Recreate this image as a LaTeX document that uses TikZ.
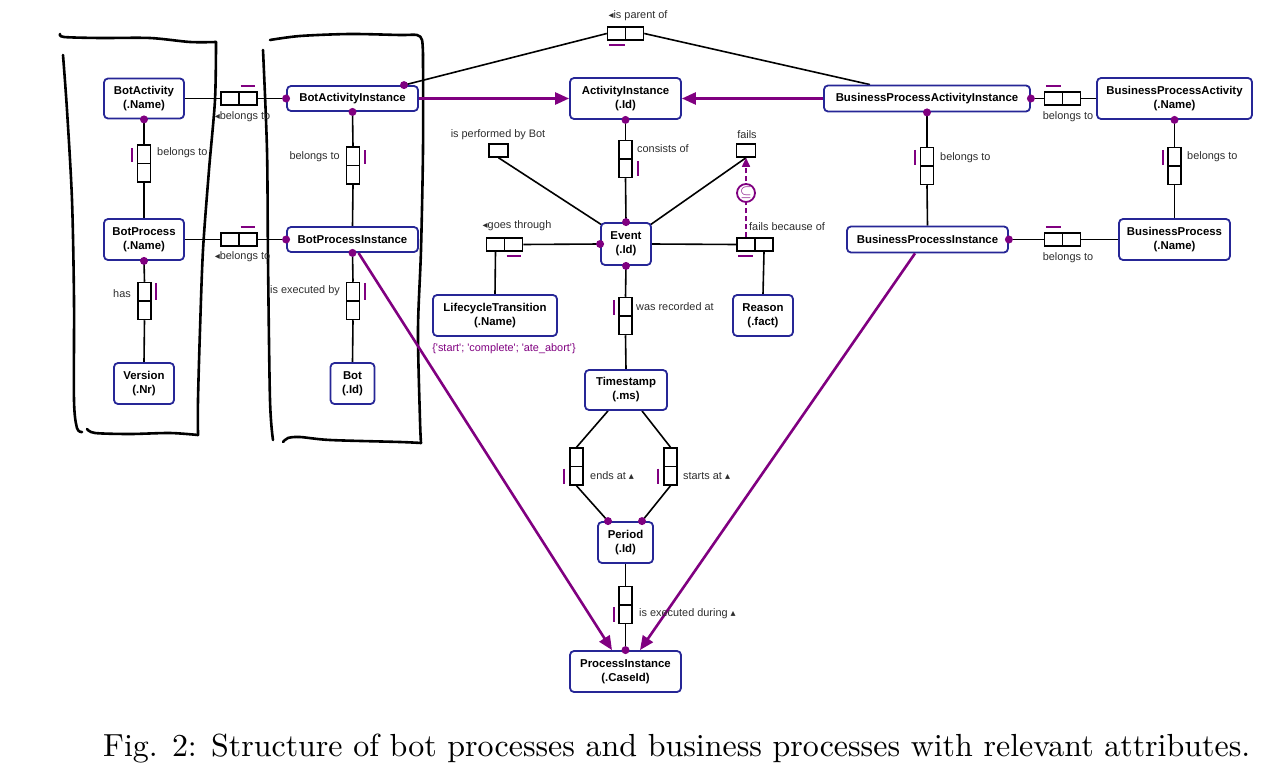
\documentclass[tikz,border=0pt]{standalone}
\usepackage{fontspec}
\usepackage{graphicx}
\usetikzlibrary{arrows.meta,backgrounds}
\newfontfamily\diafont{Liberation Sans}
\newfontfamily\symfont{DejaVu Sans}
\definecolor{navyb}{RGB}{38,38,150}
\definecolor{purp}{RGB}{128,0,128}
\definecolor{lblgray}{RGB}{45,45,45}
\newcommand\entf{\diafont\bfseries\fontsize{11.4}{14}\selectfont}
\newcommand\lblf{\diafont\fontsize{10.9}{13}\selectfont}
\newcommand\ltri{{\symfont\fontsize{10}{10}\selectfont ◂}}
\newcommand\utri{{\symfont\fontsize{10}{10}\selectfont ▴}}
\tikzset{
 ent/.style={draw=navyb, line width=1.8pt, rounded corners=4pt, fill=white, inner sep=0pt, align=center, font=\entf},
 rb/.style={draw=black, line width=1.5pt, fill=white, inner sep=0pt, minimum width=36pt, minimum height=13pt,
   path picture={\draw[line width=1.5pt] (path picture bounding box.north) -- (path picture bounding box.south);}},
 vrb/.style={draw=black, line width=1.5pt, fill=white, inner sep=0pt, minimum width=13pt, minimum height=37pt,
   path picture={\draw[line width=1.5pt] (path picture bounding box.west) -- (path picture bounding box.east);}},
 ub/.style={draw=black, line width=1.5pt, fill=white, inner sep=0pt, minimum width=19pt, minimum height=13pt},
 conn/.style={line width=1.6pt, black},
 sub/.style={draw=purp, line width=2.6pt, -{Triangle[length=14pt,width=12pt]}},
 dsub/.style={draw=purp, line width=1.5pt, dash pattern=on 5pt off 3pt, -{Triangle[length=9pt,width=8pt]}},
 bar/.style={draw=purp, line width=1.6pt},
 lbl/.style={font=\lblf, text=lblgray, inner sep=0pt},
 dot/.style={fill=purp},
 hand/.style={line width=2.6pt, black, line cap=round, line join=round},
}
\begin{document}
\begin{tikzpicture}[x=1pt, y=-1pt]
\useasboundingbox (0,0) rectangle (1275,768);

% hand-drawn boxes
\draw[hand] plot[smooth] coordinates {(60,34) (64,37) (100,38) (150,38) (190,42) (216,42)};
\draw[hand] plot[smooth] coordinates {(216,42) (215,100) (209,170) (203,250) (200,330) (198,400) (198,435)};
\draw[hand] plot[smooth] coordinates {(63,55) (67,110) (72,200) (74,300) (74,400) (77,428) (82,432)};
\draw[hand] plot[smooth] coordinates {(87,429) (95,433) (130,434) (170,433) (198,435)};
\draw[hand] plot[smooth] coordinates {(270,40) (300,36) (350,34) (400,35) (417,35) (422,40) (423,55)};
\draw[hand] plot[smooth] coordinates {(423,55) (423,150) (421,250) (418,330) (420,420) (421,443)};
\draw[hand] plot[smooth] coordinates {(263,50) (267,150) (268,260) (270,400) (273,440)};
\draw[hand] plot[smooth] coordinates {(283,442) (288,438) (300,437) (330,440) (400,442) (421,443)};

% entities
\node[ent, minimum width=80pt, minimum height=40pt] (BA) at (144,98.5) {BotActivity\\(.Name)};
\node[ent, minimum width=131pt, minimum height=25pt] (BAI) at (352.5,98.5) {BotActivityInstance};
\node[ent, minimum width=111pt, minimum height=41pt] (AI) at (625.5,98.5) {ActivityInstance\\(.Id)};
\node[ent, minimum width=206pt, minimum height=26pt] (BPAI) at (927,98.5) {BusinessProcessActivityInstance};
\node[ent, minimum width=155pt, minimum height=41pt] (BPA) at (1174.5,98.5) {BusinessProcessActivity\\(.Name)};
\node[ent, minimum width=80pt, minimum height=41pt] (BotP) at (144,239.5) {BotProcess\\(.Name)};
\node[ent, minimum width=131pt, minimum height=25pt] (BotPI) at (352.5,239.5) {BotProcessInstance};
\node[ent, minimum width=50pt, minimum height=42pt] (EV) at (626,244) {Event\\(.Id)};
\node[ent, minimum width=161pt, minimum height=26pt] (BPInst) at (927.5,239.5) {BusinessProcessInstance};
\node[ent, minimum width=111pt, minimum height=41pt] (BProc) at (1174.5,239.5) {BusinessProcess\\(.Name)};
\node[ent, minimum width=124pt, minimum height=41pt] (LT) at (495,315.5) {LifecycleTransition\\(.Name)};
\node[ent, minimum width=60pt, minimum height=41pt] (RE) at (763,315.5) {Reason\\(.fact)};
\node[ent, minimum width=60pt, minimum height=41pt] (VE) at (144,383.5) {Version\\(.Nr)};
\node[ent, minimum width=44pt, minimum height=41pt] (BOT) at (352.5,383.5) {Bot\\(.Id)};
\node[ent, minimum width=82pt, minimum height=40pt] (TS) at (626,390) {Timestamp\\(.ms)};
\node[ent, minimum width=55pt, minimum height=41pt] (PE) at (625.5,542.5) {Period\\(.Id)};
\node[ent, minimum width=111pt, minimum height=41pt] (PI) at (625.5,671.5) {ProcessInstance\\(.CaseId)};

% role boxes
\node[rb] (rBA) at (239,98.5) {};
\node[vrb] (rBAp) at (144,163.5) {};
\node[vrb] (rBAIp) at (353,165.5) {};
\node[rb] (rBP) at (239,239.5) {};
\node[vrb] (rVer) at (144.5,301) {};
\node[vrb] (rBot) at (353,301) {};
\node[rb] (rPar) at (625.5,33.5) {};
\node[vrb] (rCons) at (625.5,159) {};
\node[ub] (uPerf) at (498.5,150.5) {};
\node[ub] (uFails) at (746,150.5) {};
\node[rb] (rGoes) at (504.5,244.5) {};
\node[rb] (rFbc) at (755,244.5) {};
\node[vrb] (rRec) at (625.5,316) {};
\node[vrb] (rEnds) at (576.5,466.5) {};
\node[vrb] (rStarts) at (670.5,466.5) {};
\node[vrb] (rExec) at (625.5,605) {};
\node[rb] (rBpa) at (1062.5,98.5) {};
\node[vrb] (rBpai) at (927,166) {};
\node[vrb] (rBpa2) at (1174.5,166) {};
\node[rb] (rBpi) at (1062.5,239.5) {};

% subset circle
\node[circle, draw=purp, line width=1.8pt, fill=white, minimum size=18pt, inner sep=0pt, text=purp] (subc) at (746,193) {\scalebox{1.5}{$\subseteq$}};

\begin{pgfonlayer}{background}
\draw[conn] (BA.east) -- (rBA.west);
\draw[conn] (rBA.east) -- (BAI.west);
\draw[conn] (BA.south) -- (rBAp.north);
\draw[conn] (rBAp.south) -- (BotP.north);
\draw[conn] (BAI.south) -- (rBAIp.north);
\draw[conn] (rBAIp.south) -- (BotPI.north);
\draw[conn] (BotP.east) -- (rBP.west);
\draw[conn] (rBP.east) -- (BotPI.west);
\draw[conn] (BotP.south) -- (rVer.north);
\draw[conn] (rVer.south) -- (VE.north);
\draw[conn] (BotPI.south) -- (rBot.north);
\draw[conn] (rBot.south) -- (BOT.north);
\draw[conn] ([xshift=51.5pt]BAI.north) -- (rPar.west);
\draw[conn] (rPar.east) -- ([xshift=-57pt]BPAI.north);
\draw[conn] (AI.south) -- (rCons.north);
\draw[conn] (rCons.south) -- (EV.north);
\draw[conn] (uPerf.south) -- ([xshift=2pt,yshift=-3pt]EV.north west);
\draw[conn] (uFails.south) -- ([xshift=-2pt,yshift=-3pt]EV.north east);
\draw[conn] (rGoes.east) -- (EV.west);
\draw[conn] ([xshift=-9pt]rGoes.south) -- (LT.north);
\draw[conn] (EV.east) -- (rFbc.west);
\draw[conn] ([xshift=9pt]rFbc.south) -- (RE.north);
\draw[conn] (EV.south) -- (rRec.north);
\draw[conn] (rRec.south) -- (TS.north);
\draw[conn] ([xshift=-18pt]TS.south) -- (rEnds.north);
\draw[conn] (rEnds.south) -- ([xshift=-17.5pt]PE.north);
\draw[conn] ([xshift=16pt]TS.south) -- (rStarts.north);
\draw[conn] (rStarts.south) -- ([xshift=16.5pt]PE.north);
\draw[conn] (PE.south) -- (rExec.north);
\draw[conn] (rExec.south) -- (PI.north);
\draw[conn] (BPAI.east) -- (rBpa.west);
\draw[conn] (rBpa.east) -- (BPA.west);
\draw[conn] (BPAI.south) -- (rBpai.north);
\draw[conn] (rBpai.south) -- (BPInst.north);
\draw[conn] (BPA.south) -- (rBpa2.north);
\draw[conn] (rBpa2.south) -- (BProc.north);
\draw[conn] (BPInst.east) -- (rBpi.west);
\draw[conn] (rBpi.east) -- (BProc.west);
\draw[dsub] ([xshift=-9pt]rFbc.north) -- (uFails.south);
\end{pgfonlayer}

% subtype arrows
\draw[sub] (BAI.east) -- (AI.west);
\draw[sub] (BPAI.west) -- (AI.east);
\draw[sub] ([xshift=6pt]BotPI.south) -- ([xshift=-13.5pt]PI.north);
\draw[sub] ([xshift=-12.5pt]BPInst.south) -- ([xshift=14.5pt]PI.north);

% purple constraint bars
\draw[bar] ([xshift=1.5pt,yshift=5pt]rBA.north) -- ([xshift=-2.5pt,yshift=5pt]rBA.north east);
\draw[bar] ([xshift=1.5pt,yshift=5pt]rBP.north) -- ([xshift=-2.5pt,yshift=5pt]rBP.north east);
\draw[bar] ([xshift=2pt,yshift=-4.5pt]rPar.south west) -- ([xshift=-1pt,yshift=-4.5pt]rPar.south);
\draw[bar] ([xshift=2pt,yshift=-4.5pt]rGoes.south) -- ([xshift=-2pt,yshift=-4.5pt]rGoes.south east);
\draw[bar] ([xshift=2pt,yshift=-4.5pt]rFbc.south west) -- ([xshift=-2pt,yshift=-4.5pt]rFbc.south);
\draw[bar] ([xshift=2pt,yshift=5pt]rBpa.north west) -- ([xshift=-2pt,yshift=5pt]rBpa.north);
\draw[bar] ([xshift=2pt,yshift=5pt]rBpi.north west) -- ([xshift=-2pt,yshift=5pt]rBpi.north);
\draw[bar] ([xshift=-4.5pt,yshift=-4pt]rBAp.north west) -- ([xshift=-4.5pt,yshift=1.5pt]rBAp.west);
\draw[bar] ([xshift=4.5pt,yshift=-4pt]rBAIp.north east) -- ([xshift=4.5pt,yshift=1.5pt]rBAIp.east);
\draw[bar] ([xshift=4.5pt,yshift=-1pt]rVer.north east) -- ([xshift=4.5pt,yshift=1.5pt]rVer.east);
\draw[bar] ([xshift=4.5pt,yshift=-1pt]rBot.north east) -- ([xshift=4.5pt,yshift=1.5pt]rBot.east);
\draw[bar] ([xshift=5pt,yshift=-2pt]rCons.east) -- ([xshift=5pt,yshift=2pt]rCons.south east);
\draw[bar] ([xshift=-4.5pt,yshift=-3pt]rRec.north west) -- ([xshift=-4.5pt,yshift=1.5pt]rRec.west);
\draw[bar] ([xshift=-5pt,yshift=-2pt]rEnds.west) -- ([xshift=-5pt,yshift=2pt]rEnds.south west);
\draw[bar] ([xshift=-5pt,yshift=-2pt]rStarts.west) -- ([xshift=-5pt,yshift=2pt]rStarts.south west);
\draw[bar] ([xshift=-4.5pt,yshift=-2pt]rExec.west) -- ([xshift=-4.5pt,yshift=2pt]rExec.south west);
\draw[bar] ([xshift=-4.5pt,yshift=-3pt]rBpai.north west) -- ([xshift=-4.5pt,yshift=1.5pt]rBpai.west);
\draw[bar] ([xshift=-4.5pt,yshift=-3pt]rBpa2.north west) -- ([xshift=-4.5pt,yshift=1.5pt]rBpa2.west);

% dots
\foreach \p in {BA.south, BAI.west, BAI.south, AI.south, EV.north, EV.west, EV.south,
  BotPI.west, BotPI.south, BotP.south, PI.north, BPAI.east, BPAI.south, BPA.south, BPInst.east}
  \fill[dot] (\p) circle (4pt);
\fill[dot] ([xshift=51.5pt]BAI.north) circle (4pt);
\fill[dot] ([xshift=-17.5pt]PE.north) circle (4pt);
\fill[dot] ([xshift=16.5pt]PE.north) circle (4pt);

% labels
\node[lbl] (l1) at (242.5,117) {\ltri belongs to};
\node[lbl, anchor=west] (l2) at (157,153) {belongs to};
\node[lbl, anchor=east] (l3) at (340,157) {belongs to};
\node[lbl] (l4) at (242.5,257) {\ltri belongs to};
\node[lbl, anchor=east] (l5) at (131,294) {has};
\node[lbl, anchor=east] (l6) at (340,291) {is executed by};
\node[lbl] (l7) at (638,16) {\ltri is parent of};
\node[lbl] (l8) at (498,135) {is performed by Bot};
\node[lbl, anchor=west] (l9) at (637,149) {consists of};
\node[lbl] (l10) at (747,135) {fails};
\node[lbl] (l11) at (517,226) {\ltri goes through};
\node[lbl, anchor=west] (l12) at (749,227) {fails because of};
\node[lbl, anchor=west] (l13) at (636,307) {was recorded at};
\node[lbl, text=purp] (l14) at (504,349) {\{'start'; 'complete'; 'ate\_abort'\}};
\node[lbl, anchor=west] (l15) at (590,476) {ends at \utri};
\node[lbl, anchor=west] (l16) at (683,476) {starts at \utri};
\node[lbl, anchor=west] (l17) at (639,614) {is executed during \utri};
\node[lbl] (l18) at (1068,117) {belongs to};
\node[lbl, anchor=west] (l19) at (940,158) {belongs to};
\node[lbl, anchor=west] (l20) at (1187,157) {belongs to};
\node[lbl] (l21) at (1068,258) {belongs to};

% caption
\node[anchor=base west, inner sep=0pt] (cap) at (103,756) {\resizebox{1147pt}{!}{Fig. 2: Structure of bot processes and business processes with relevant attributes.}};
\end{tikzpicture}
\end{document}
